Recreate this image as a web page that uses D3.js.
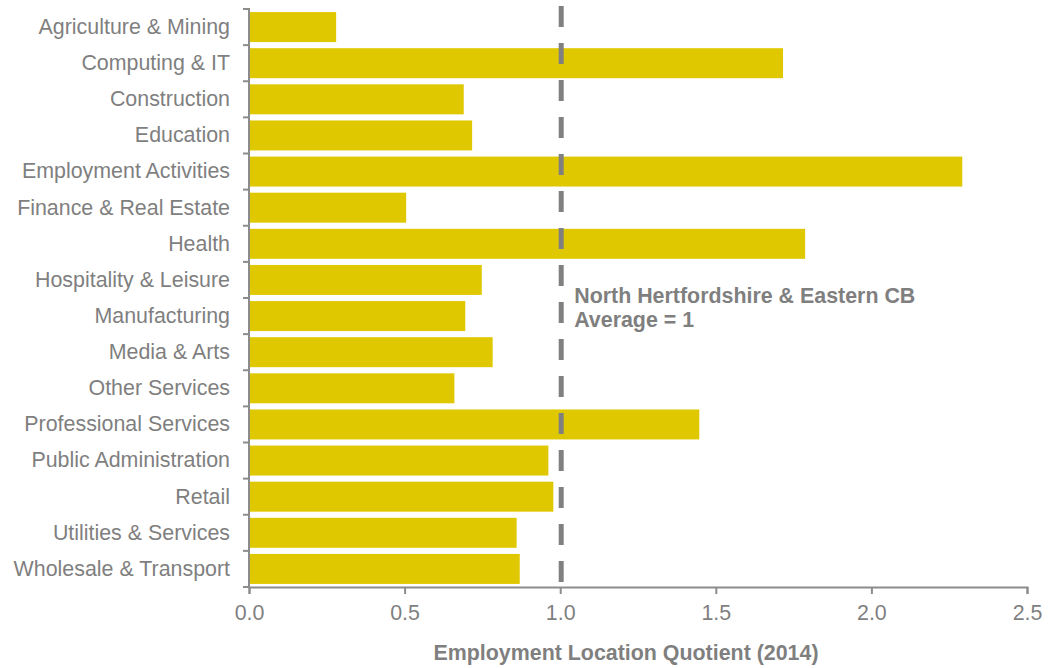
<!DOCTYPE html>
<html>
<head>
<meta charset="utf-8">
<script src="https://cdn.jsdelivr.net/npm/d3@7"></script>
<style>
  body { margin: 0; background: #fff; }
  .axis text { font-family: "Liberation Sans", Arial, sans-serif; font-size: 21.4px; fill: #7f7f7f; }
  .axis path, .axis line { stroke: #8c8c8c; stroke-width: 2; }
</style>
</head>
<body>
<div id="chart"></div>
<script>
// categories and values
var categories = ["Agriculture & Mining", "Computing & IT", "Construction", "Education",
  "Employment Activities", "Finance & Real Estate", "Health", "Hospitality & Leisure",
  "Manufacturing", "Media & Arts", "Other Services", "Professional Services",
  "Public Administration", "Retail", "Utilities & Services", "Wholesale & Transport"];
var values = [0.28, 1.716, 0.69, 0.717, 2.292, 0.505, 1.787, 0.748, 0.695, 0.783, 0.66, 1.447, 0.962, 0.978, 0.86, 0.87];
var xTicks = [0, 0.5, 1, 1.5, 2, 2.5];
var average = 1;

var margin = {top: 9, right: 29, bottom: 81, left: 249},
    width = 1056 - margin.left - margin.right,
    height = 668 - margin.top - margin.bottom;

var svg = d3.select("#chart").append("svg")
    .attr("width", 1056)
    .attr("height", 668)
  .append("g")
    .attr("transform", "translate(" + margin.left + "," + margin.top + ")");

var x = d3.scaleLinear().domain([0, 2.5]).range([0, width]);
var y = d3.scaleBand().domain(categories).range([0, height]).paddingInner(0.17).paddingOuter(0.085);

// bars
svg.selectAll(".bar")
    .data(values)
  .enter().append("rect")
    .attr("class", "bar")
    .attr("x", 1)
    .attr("y", function(d, i) { return y(categories[i]); })
    .attr("width", function(d) { return x(d) - 1; })
    .attr("height", y.bandwidth())
    .attr("fill", "#e0c800");

// x axis
svg.append("g")
    .attr("class", "axis")
    .attr("transform", "translate(0," + height + ")")
    .call(d3.axisBottom(x).tickValues(xTicks).tickFormat(d3.format(".1f")).tickSizeInner(7).tickSizeOuter(7).tickPadding(11));

// y axis, ticks between categories
var yAxis = svg.append("g")
    .attr("class", "axis")
    .call(d3.axisLeft(y).tickSize(0).tickPadding(19));
yAxis.select(".domain").remove();
yAxis.append("path")
    .attr("d", "M-6,0H0V" + height + "H-6")
    .attr("fill", "none")
    .attr("stroke", "#8c8c8c")
    .attr("stroke-width", 2);
yAxis.selectAll(".sep")
    .data(d3.range(1, categories.length))
    .enter().append("line")
    .attr("x1", -6).attr("x2", 0)
    .attr("y1", function(i) { return i * y.step() + y.step() * y.paddingOuter() - y.step() * y.paddingInner() / 2; })
    .attr("y2", function(i) { return i * y.step() + y.step() * y.paddingOuter() - y.step() * y.paddingInner() / 2; });

// average line
svg.append("line")
    .attr("x1", x(average) + 1).attr("x2", x(average) + 1)
    .attr("y1", -3).attr("y2", height)
    .attr("stroke", "#808080")
    .attr("stroke-width", 5)
    .attr("stroke-dasharray", "21,16");

svg.append("text")
    .attr("x", x(average) + 14)
    .attr("y", 303 - margin.top)
    .attr("font-family", "Liberation Sans, Arial, sans-serif")
    .attr("font-size", 21.4)
    .attr("font-weight", "bold")
    .attr("fill", "#7f7f7f")
    .selectAll("tspan")
    .data(["North Hertfordshire & Eastern CB", "Average = 1"])
    .enter().append("tspan")
    .attr("x", x(average) + 14)
    .attr("dy", function(d, i) { return i ? 24 : 0; })
    .text(function(d) { return d; });

// x axis title
svg.append("text")
    .attr("x", 626 - margin.left)
    .attr("y", 660 - margin.top)
    .attr("text-anchor", "middle")
    .attr("font-family", "Liberation Sans, Arial, sans-serif")
    .attr("font-size", 21.4)
    .attr("font-weight", "bold")
    .attr("fill", "#7f7f7f")
    .text("Employment Location Quotient (2014)");
</script>
</body>
</html>
